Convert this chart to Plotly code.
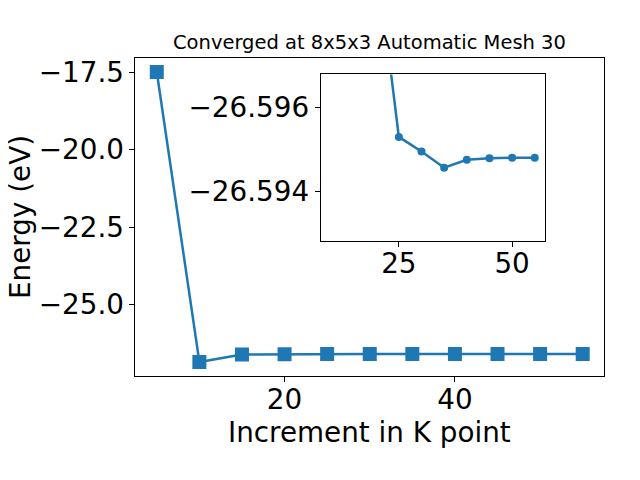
import plotly.graph_objects as go

# ---- data ----
kpoints = [5, 10, 15, 20, 25, 30, 35, 40, 45, 50, 55]
energy = [-17.5, -26.85, -26.61, -26.5997, -26.5953, -26.59495, -26.59456,
          -26.59475, -26.59479, -26.5948, -26.5948]

title_text = "Converged at 8x5x3 Automatic Mesh 30"
x_label = "Increment in K point"
y_label = "Energy (eV)"

main_xticks = [20, 40]
main_yticks = [-25.0, -22.5, -20.0, -17.5]
main_ytext = ["\u221225.0", "\u221222.5", "\u221220.0", "\u221217.5"]
inset_xticks = [25, 50]
inset_yticks = [-26.596, -26.594]
inset_ytext = ["\u221226.596", "\u221226.594"]

BLUE = "#1f77b4"
FONT = "DejaVu Sans"
FS = 27.8

fig = go.Figure()
fig.add_trace(go.Scatter(
    x=kpoints, y=energy, mode="lines+markers",
    line=dict(color=BLUE, width=2.5),
    marker=dict(symbol="square", size=14, color=BLUE),
    xaxis="x", yaxis="y", showlegend=False))
fig.add_trace(go.Scatter(
    x=kpoints[1:], y=energy[1:], mode="lines+markers",
    line=dict(color=BLUE, width=2.5),
    marker=dict(symbol="circle", size=8, color=BLUE),
    xaxis="x2", yaxis="y2", showlegend=False))

axis_common = dict(showline=True, mirror=True, linecolor="black", linewidth=1,
                   ticks="outside", ticklen=5, tickwidth=1, tickcolor="black",
                   showgrid=False, zeroline=False,
                   tickfont=dict(family=FONT, size=FS, color="black"))

fig.update_layout(
    width=640, height=480,
    margin=dict(l=0, r=0, t=0, b=0),
    paper_bgcolor="white", plot_bgcolor="white",
    font=dict(family=FONT, color="black"),
    xaxis=dict(domain=[0.1992, 0.93125], range=[2.5, 57.5],
               tickvals=main_xticks, anchor="y", ticklabelstandoff=-7, **axis_common),
    yaxis=dict(domain=[0.2333, 0.9006], range=[-27.3175, -17.0325],
               tickvals=main_yticks, ticktext=main_ytext, anchor="x", **axis_common),
    xaxis2=dict(domain=[0.4886, 0.839], range=[7.75, 57.25],
                tickvals=inset_xticks, anchor="y2", ticklabelstandoff=-7, **axis_common),
    yaxis2=dict(domain=[0.5167, 0.8652], range=[-26.5928, -26.5968],
                tickvals=inset_yticks, ticktext=inset_ytext, anchor="x2", **axis_common),
    annotations=[
        dict(text=title_text, x=0.5656, y=0.93125, xref="paper", yref="paper",
             xanchor="center", yanchor="middle", showarrow=False,
             font=dict(family=FONT, size=19.5, color="black")),
        dict(text=x_label, x=0.5656, y=0.1167, xref="paper", yref="paper",
             xanchor="center", yanchor="middle", showarrow=False,
             font=dict(family=FONT, size=FS, color="black")),
        dict(text=y_label, x=0.0185, y=0.5667, xref="paper", yref="paper",
             xanchor="center", yanchor="middle", showarrow=False, textangle=-90,
             font=dict(family=FONT, size=FS, color="black")),
    ],
)

fig.write_html("out.html")
